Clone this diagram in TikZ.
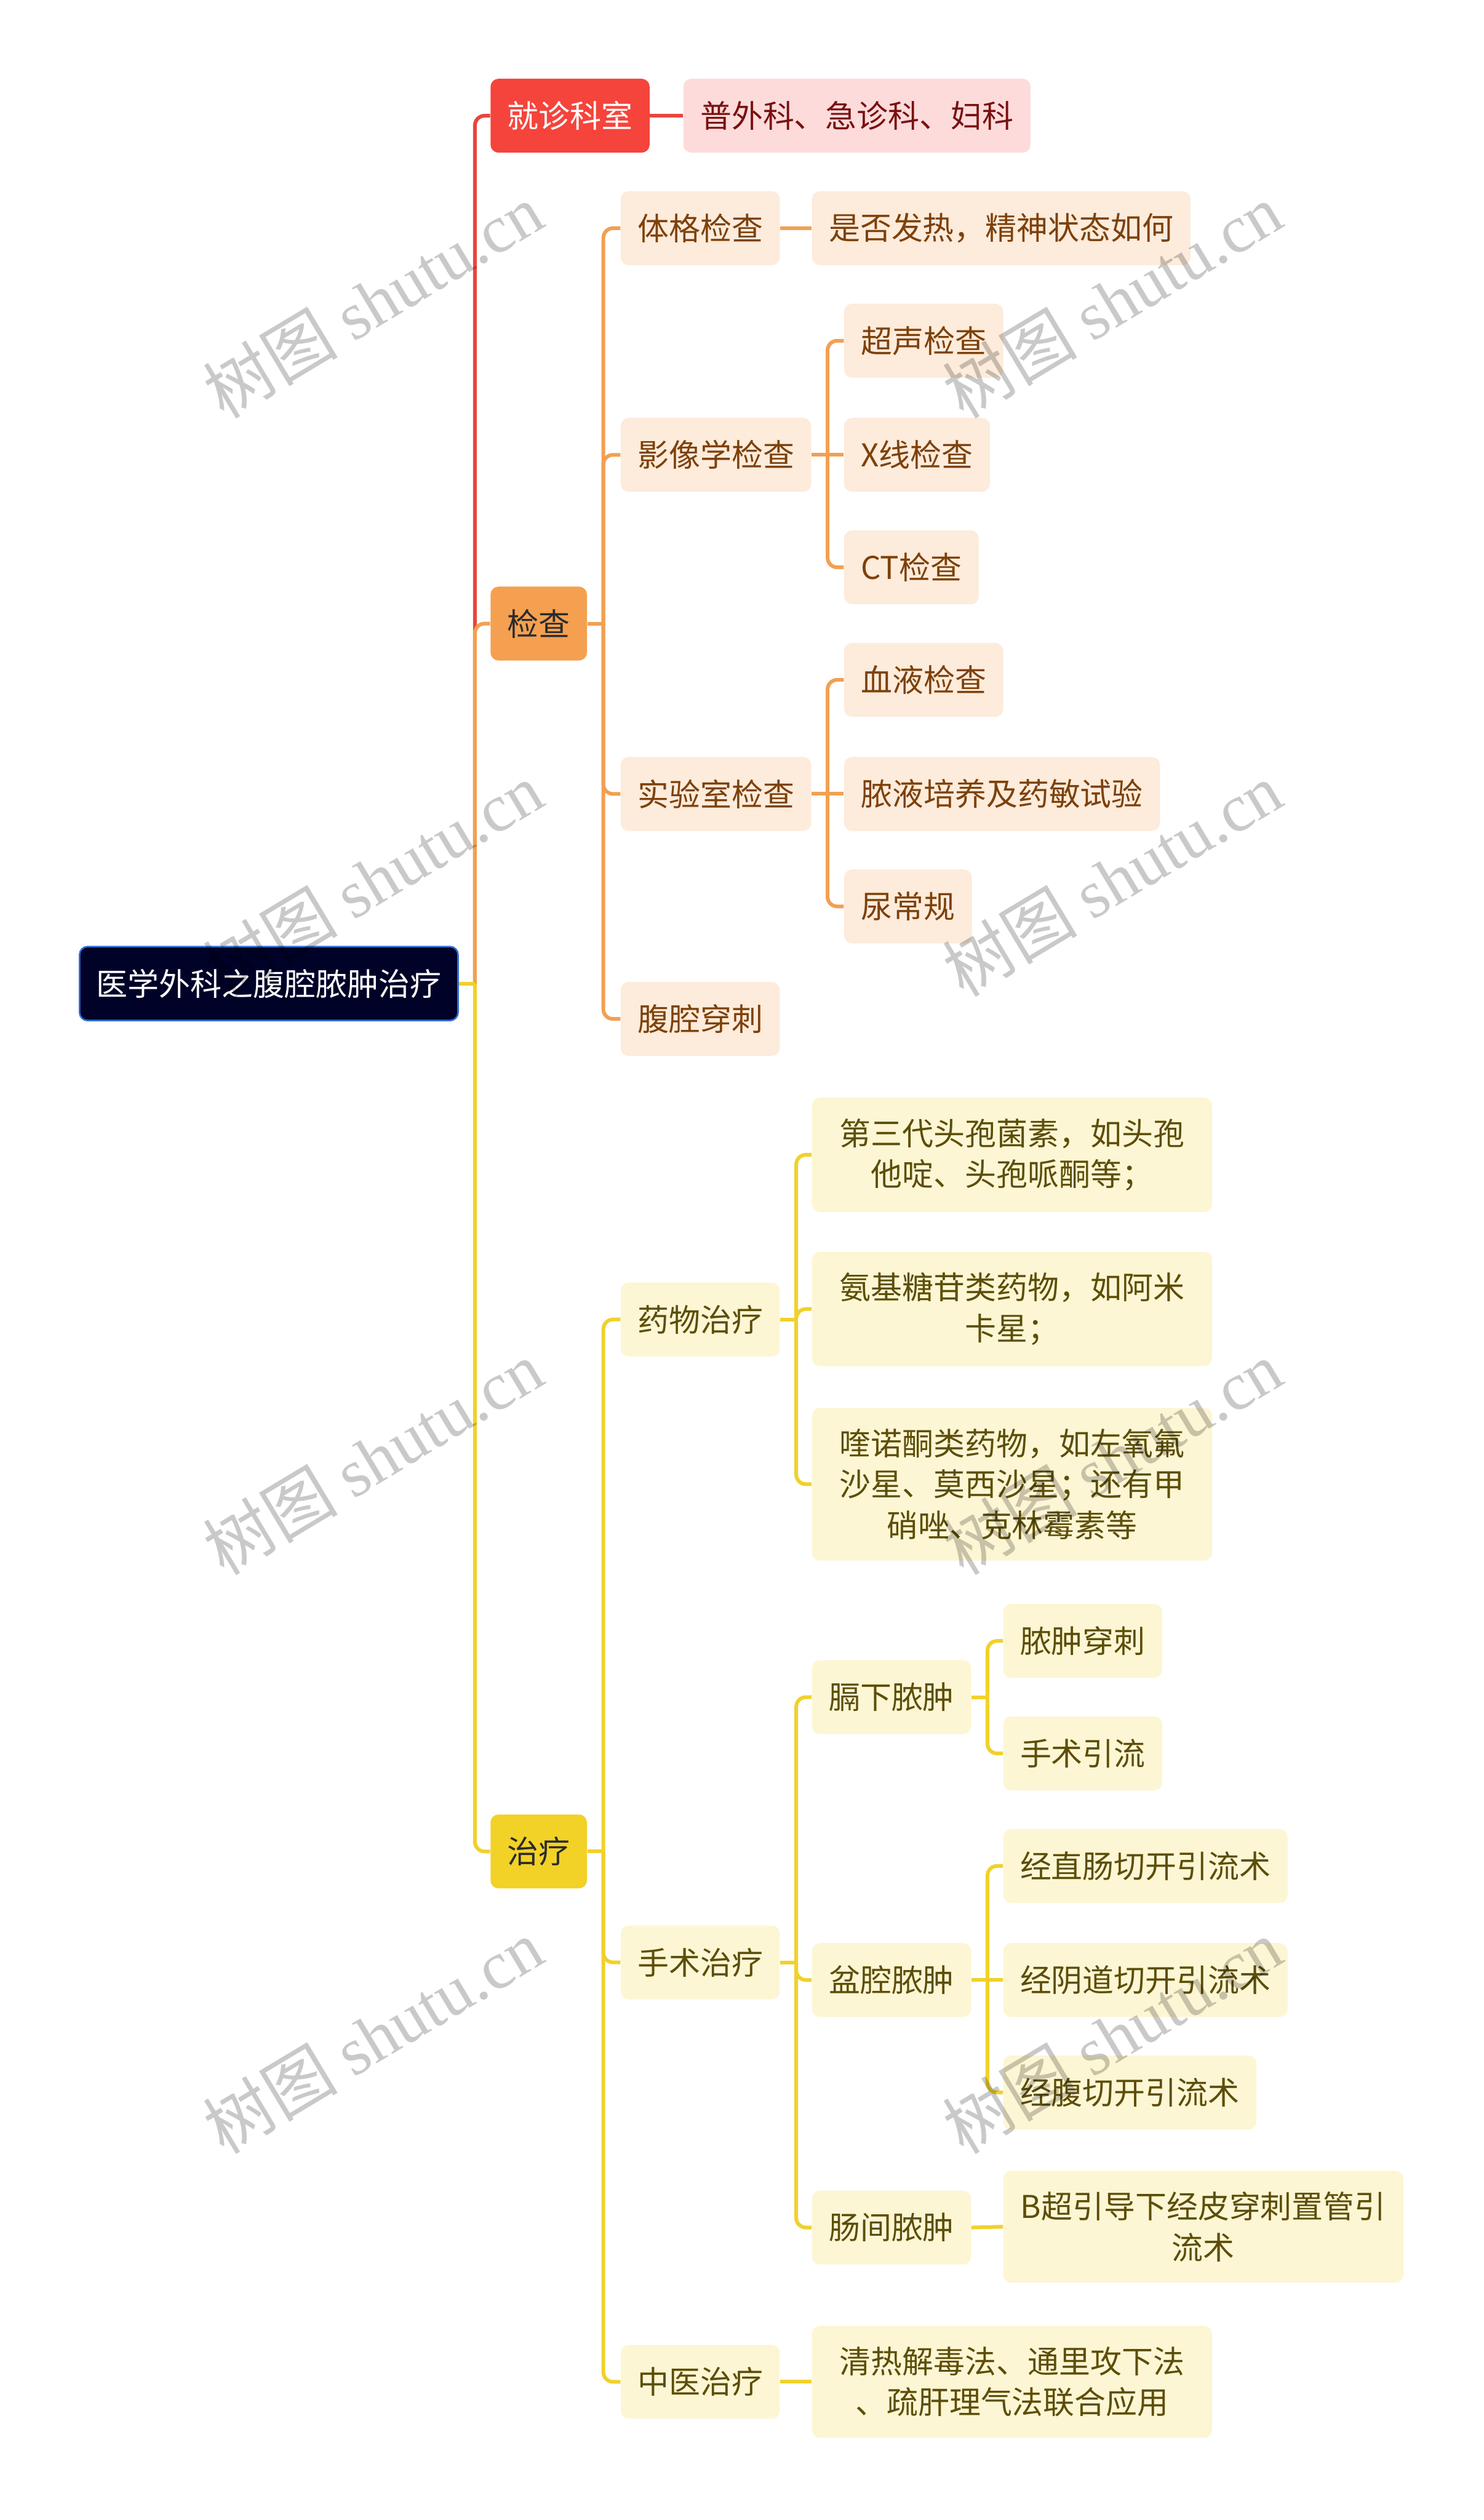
\documentclass[tikz,border=0pt]{standalone}
\usepackage{fontspec}
\setmainfont{Noto Sans CJK SC}
\newfontfamily\wmserif{Liberation Serif}
\newfontfamily\wmcjk{Noto Sans CJK SC}
\definecolor{rootfill}{RGB}{0,2,40}
\definecolor{rootborder}{RGB}{50,110,215}
\definecolor{redfill}{RGB}{245,68,60}
\definecolor{redline}{RGB}{232,70,62}
\definecolor{pinkfill}{RGB}{253,219,219}
\definecolor{pinktext}{RGB}{122,16,16}
\definecolor{orafill}{RGB}{244,160,80}
\definecolor{oraline}{RGB}{242,160,82}
\definecolor{oralight}{RGB}{253,235,219}
\definecolor{oratext}{RGB}{125,65,10}
\definecolor{yelfill}{RGB}{242,210,38}
\definecolor{yelline}{RGB}{240,209,44}
\definecolor{yellight}{RGB}{253,246,212}
\definecolor{yeltext}{RGB}{92,78,8}
\definecolor{darktext}{RGB}{43,43,43}
\tikzset{
  basebox/.style={rounded corners=5pt, inner xsep=10.5pt, inner ysep=13pt,
    minimum height=46pt, anchor=west, align=center,
    font=\fontsize{19.5}{25.5}\selectfont},
  rootbox/.style={basebox, fill=rootfill, draw=rootborder, line width=1pt, text=white},
  redbox/.style={basebox, fill=redfill, text=white},
  pinkbox/.style={basebox, fill=pinkfill, text=pinktext},
  orabox/.style={basebox, fill=orafill, text=darktext},
  olt/.style={basebox, fill=oralight, text=oratext},
  yelbox/.style={basebox, fill=yelfill, text=darktext},
  ylt/.style={basebox, fill=yellight, text=yeltext},
  wide/.style={text width=228pt},
  rl/.style={draw=redline, line width=2.3pt, rounded corners=6pt},
  ol/.style={draw=oraline, line width=2.3pt, rounded corners=6pt},
  yl/.style={draw=yelline, line width=2.3pt, rounded corners=6pt},
  wm/.style={rotate=31, text=black, text opacity=0.21, inner sep=0pt,
    font=\fontsize{42}{42}\selectfont}
}
\begin{document}
\begin{tikzpicture}[x=1pt, y=-1pt]
\fill[white] (0,0) rectangle (923,1568);
\useasboundingbox (0,0) rectangle (923,1568);

% nodes
\node[rootbox] (root) at (49,612) {医学外科之腹腔脓肿治疗};
\node[redbox] (jz) at (305,72) {就诊科室};
\node[pinkbox] (jz1) at (425,72) {普外科、急诊科、妇科};

\node[orabox] (jc) at (305,388) {检查};
\node[olt] (tg) at (386,142) {体格检查};
\node[olt] (tg1) at (505,142) {是否发热，精神状态如何};
\node[olt] (yx) at (386,283) {影像学检查};
\node[olt] (yx1) at (525,212) {超声检查};
\node[olt] (yx2) at (525,283) {X线检查};
\node[olt] (yx3) at (525,353) {CT检查};
\node[olt] (sy) at (386,494) {实验室检查};
\node[olt] (sy1) at (525,423) {血液检查};
\node[olt] (sy2) at (525,494) {脓液培养及药敏试验};
\node[olt] (sy3) at (525,564) {尿常规};
\node[olt] (fq) at (386,634) {腹腔穿刺};

\node[yelbox] (zl) at (305,1152) {治疗};
\node[ylt] (yw) at (386,821) {药物治疗};
\node[ylt, wide] (yw1) at (505,718.5) {第三代头孢菌素，如头孢\\他啶、头孢哌酮等；};
\node[ylt, wide] (yw2) at (505,814.5) {氨基糖苷类药物，如阿米\\卡星；};
\node[ylt, wide] (yw3) at (505,923.5) {喹诺酮类药物，如左氧氟\\沙星、莫西沙星；还有甲\\硝唑、克林霉素等};
\node[ylt] (ss) at (386,1221) {手术治疗};
\node[ylt] (gx) at (505,1056) {膈下脓肿};
\node[ylt] (gx1) at (624,1021) {脓肿穿刺};
\node[ylt] (gx2) at (624,1091) {手术引流};
\node[ylt] (pq) at (505,1232) {盆腔脓肿};
\node[ylt] (pq1) at (624,1161) {经直肠切开引流术};
\node[ylt] (pq2) at (624,1232) {经阴道切开引流术};
\node[ylt] (pq3) at (624,1302) {经腹切开引流术};
\node[ylt] (cj) at (505,1386) {肠间脓肿};
\node[ylt, wide] (cj1) at (624,1385.5) {B超引导下经皮穿刺置管引\\流术};
\node[ylt] (zy) at (386,1482) {中医治疗};
\node[ylt, wide] (zy1) at (505,1482) {清热解毒法、通里攻下法\\、疏肝理气法联合应用};

% junction coordinates
\coordinate (jroot) at ([xshift=10pt]root.east);
\coordinate (jjc) at ([xshift=10pt]jc.east);
\coordinate (jyx) at ([xshift=10pt]yx.east);
\coordinate (jsy) at ([xshift=10pt]sy.east);
\coordinate (jzl) at ([xshift=10pt]zl.east);
\coordinate (jyw) at ([xshift=10pt]yw.east);
\coordinate (jss) at ([xshift=10pt]ss.east);
\coordinate (jgx) at ([xshift=10pt]gx.east);
\coordinate (jpq) at ([xshift=10pt]pq.east);

% root branches
\draw[rl] (jroot) |- (jz.west);
\draw[ol] (jroot) |- (jc.west);
\draw[yl] (jroot) |- (zl.west);
\draw[yl] (root.east) -- (jroot);
\draw[rl] (jz.east) -- (jz1.west);

% 检查
\draw[ol] (jc.east) -- (jjc);
\draw[ol] (jjc) |- (tg.west);
\draw[ol] (jjc) |- (yx.west);
\draw[ol] (jjc) |- (sy.west);
\draw[ol] (jjc) |- (fq.west);
\draw[ol] (tg.east) -- (tg1.west);
\draw[ol] (yx.east) -- (yx2.west);
\draw[ol] (jyx) |- (yx1.west);
\draw[ol] (jyx) |- (yx3.west);
\draw[ol] (sy.east) -- (sy2.west);
\draw[ol] (jsy) |- (sy1.west);
\draw[ol] (jsy) |- (sy3.west);

% 治疗
\draw[yl] (zl.east) -- (jzl);
\draw[yl] (jzl) |- (yw.west);
\draw[yl] (jzl) |- (ss.west);
\draw[yl] (jzl) |- (zy.west);
\draw[yl] (yw.east) -- (jyw);
\draw[yl] (jyw) |- (yw1.west);
\draw[yl] (jyw) |- (yw2.west);
\draw[yl] (jyw) |- (yw3.west);
\draw[yl] (ss.east) -- (jss);
\draw[yl] (jss) |- (gx.west);
\draw[yl] (jss) |- (pq.west);
\draw[yl] (jss) |- (cj.west);
\draw[yl] (gx.east) -- (jgx);
\draw[yl] (jgx) |- (gx1.west);
\draw[yl] (jgx) |- (gx2.west);
\draw[yl] (pq.east) -- (pq2.west);
\draw[yl] (jpq) |- (pq1.west);
\draw[yl] (jpq) |- (pq3.west);
\draw[yl] (cj.east) -- (cj1.west);
\draw[yl] (zy.east) -- (zy1.west);

% watermarks
\foreach \wy [count=\i] in {187,547,907,1267}{
  \node[wm] (wl\i) at (232,\wy) {\wmcjk 树图 \wmserif shutu.cn};
  \node[wm] (wr\i) at (692,\wy) {\wmcjk 树图 \wmserif shutu.cn};
}
\end{tikzpicture}
\end{document}
